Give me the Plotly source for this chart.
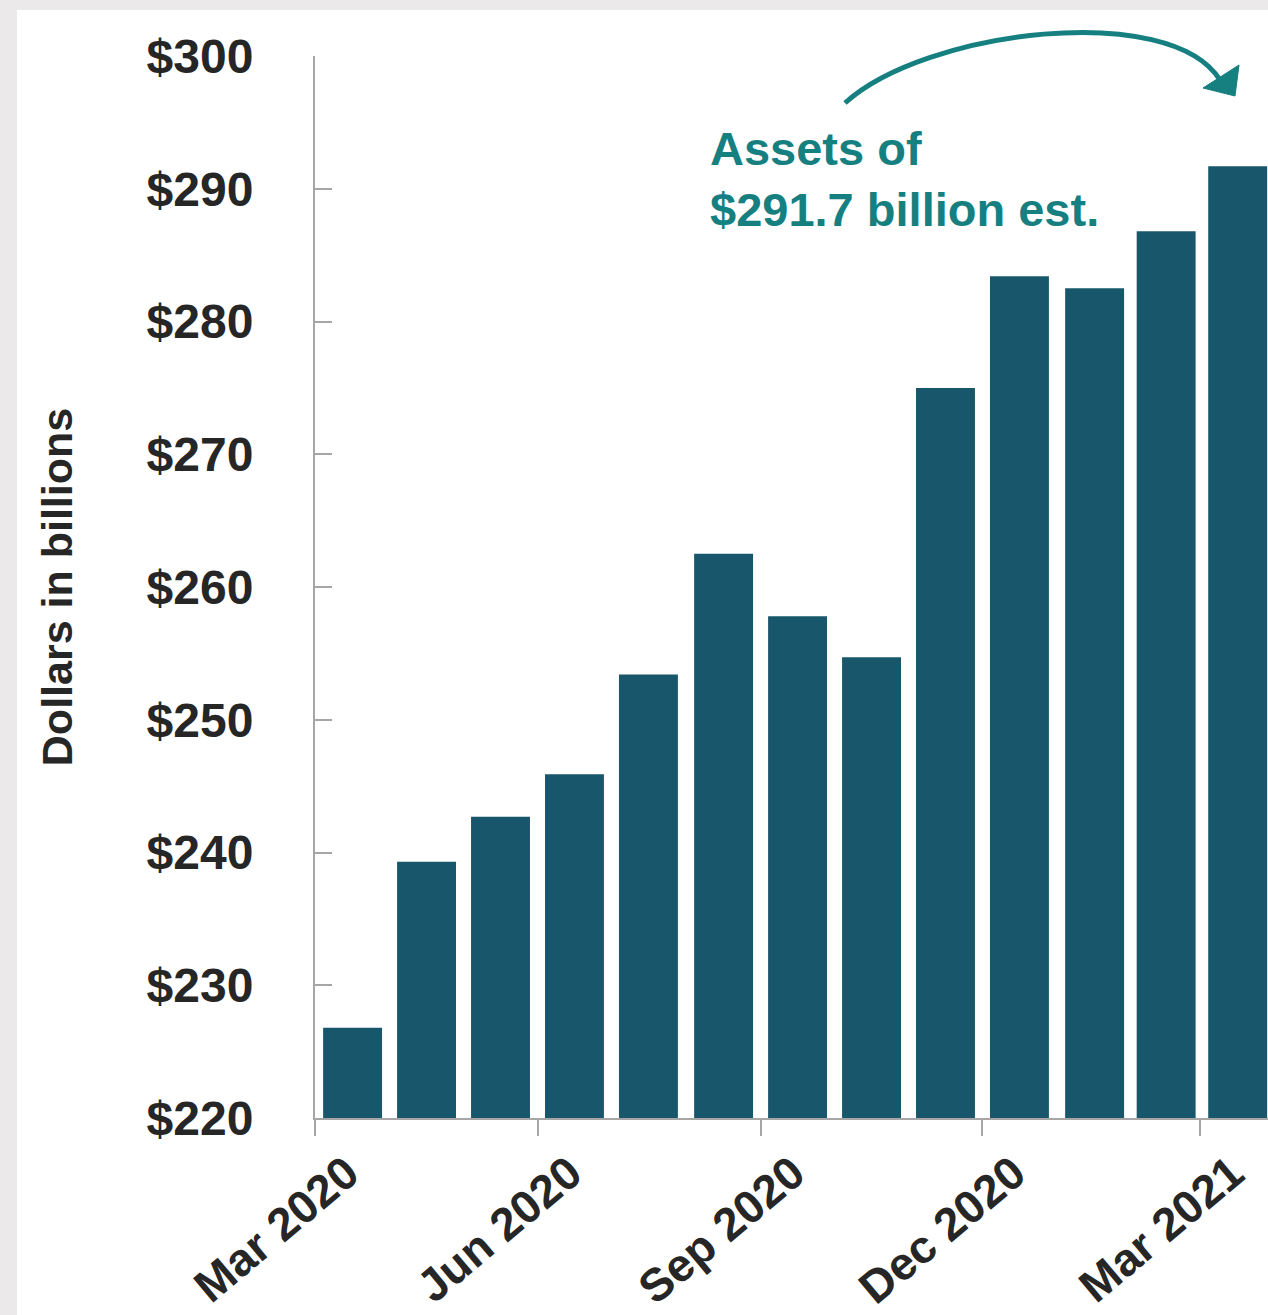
import plotly.graph_objects as go

# ---- data ----
months = ["2020-03-01", "2020-04-01", "2020-05-01", "2020-06-01", "2020-07-01",
          "2020-08-01", "2020-09-01", "2020-10-01", "2020-11-01", "2020-12-01",
          "2021-01-01", "2021-02-01", "2021-03-01"]
assets = [226.8, 239.3, 242.7, 245.9, 253.4, 262.5, 257.8, 254.7, 275.0,
          283.4, 282.5, 286.8, 291.7]
y_ticks = [220, 230, 240, 250, 260, 270, 280, 290, 300]
y_title = "Dollars in billions"
note_lines = ["Assets of", "$291.7 billion est."]

# ---- styling ----
W, H = 1268, 1315
ML, MR, MT, MB = 315, 0, 56, 197
PW, PH = W - ML - MR, H - MT - MB
BAR = "#17566b"
TEAL = "#168080"
TXT = "#262626"
AX = "#a6a6a6"
FONT = "Liberation Sans, Arial, sans-serif"
DAY_MS = 86400000


def px(x):
    return (x - ML) / PW


def py(y):
    return (H - MB - y) / PH


fig = go.Figure()
fig.add_trace(go.Bar(
    x=months, y=assets,
    xperiod="M1", xperiodalignment="middle",
    width=24.3 * DAY_MS,
    marker=dict(color=BAR, line=dict(width=0)),
    hoverinfo="x+y",
))

# gray frame + white card
shapes = [
    dict(type="rect", xref="paper", yref="paper", layer="below",
         x0=px(17), x1=px(W + 20), y0=py(H + 20), y1=py(10),
         fillcolor="white", line=dict(width=0)),
    # curved arrow
    dict(type="path", xref="paper", yref="paper",
         path=(f"M {px(845)},{py(103)} C {px(925)},{py(30)} "
               f"{px(1170)},{py(0)} {px(1220)},{py(80)}"),
         line=dict(color=TEAL, width=5)),
    dict(type="path", xref="paper", yref="paper",
         path=(f"M {px(1203)},{py(88)} L {px(1239)},{py(65)} "
               f"L {px(1235)},{py(96)} Z"),
         fillcolor=TEAL, line=dict(color=TEAL, width=1)),
]

annotations = [
    dict(text=f"<b>{note_lines[0]}</b>", xref="paper", yref="paper",
         x=px(708), y=py(177), xanchor="left", yanchor="bottom",
         showarrow=False, font=dict(family=FONT, size=47, color=TEAL)),
    dict(text=f"<b>{note_lines[1]}</b>", xref="paper", yref="paper",
         x=px(708), y=py(238), xanchor="left", yanchor="bottom",
         showarrow=False, font=dict(family=FONT, size=47, color=TEAL)),
]

fig.update_layout(
    width=W, height=H,
    margin=dict(l=ML, r=MR, t=MT, b=MB, pad=0, autoexpand=False),
    paper_bgcolor="#ebe9ea",
    plot_bgcolor="white",
    showlegend=False,
    bargap=0.2,
    shapes=shapes,
    annotations=annotations,
    font=dict(family=FONT, color=TXT),
)

fig.update_xaxes(
    type="date",
    automargin=False,
    range=["2020-03-01", "2021-03-29"],
    tick0="2020-03-01", dtick="M3", tickformat="%b %Y",
    ticks="outside", ticklen=16, tickwidth=2, tickcolor=AX,
    showline=True, linecolor=AX, linewidth=2,
    showgrid=False, zeroline=False,
    tickangle=-40,
    tickfont=dict(family=FONT, size=46, color=TXT, weight="bold"),
    ticklabelshift=32,
    ticklabelstandoff=-8,
)

fig.update_yaxes(
    automargin=False,
    range=[220, 300],
    tickvals=y_ticks,
    ticktext=[f"${v}" for v in y_ticks],
    ticks="inside", ticklen=17, tickwidth=2, tickcolor=AX,
    showline=True, linecolor=AX, linewidth=2,
    showgrid=False, zeroline=False,
    tickfont=dict(family=FONT, size=48, color=TXT, weight="bold"),
    ticklabelstandoff=50,
    title=dict(text=f"<b>{y_title}</b>", standoff=61,
               font=dict(family=FONT, size=43, color=TXT)),
)

fig.write_html(
    "out.html",
    config={"displayModeBar": False},
    post_script="document.body.style.margin='0';"
                "document.body.style.overflow='hidden';",
)
